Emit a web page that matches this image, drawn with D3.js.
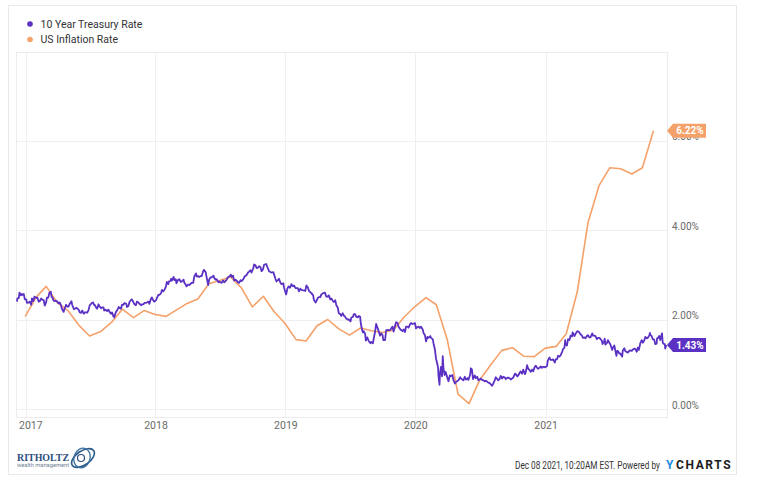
<!DOCTYPE html>
<html><head><meta charset="utf-8">
<script src="https://cdn.jsdelivr.net/npm/d3@7"></script>
<style>
html,body{margin:0;padding:0;background:#fff;}
svg{display:block;font-family:Roboto,"Noto Sans",sans-serif;}
</style></head>
<body>
<svg id="chart" width="760" height="488"></svg>
<script>
// ---------- DATA ----------
const seriesNames = ["10 Year Treasury Rate", "US Inflation Rate"];
const yTickValues = [0, 2, 4, 6];
const yTickLabels = ["0.00%", "2.00%", "4.00%", "6.00%"];
const xTickLabels = ["2017", "2018", "2019", "2020", "2021"];
const lastLabels = ["1.43%", "6.22%"];

const treasury2016 = [["2016-12-08",2.40],["2016-12-09",2.47],["2016-12-13",2.48],["2016-12-15",2.60],["2016-12-19",2.54],["2016-12-21",2.57],["2016-12-23",2.55],["2016-12-27",2.57],["2016-12-30",2.45]];
const treasury2017 = [["2017-01-03",2.45],["2017-01-05",2.37],["2017-01-09",2.38],["2017-01-11",2.38],["2017-01-13",2.40],["2017-01-17",2.33],["2017-01-19",2.47],["2017-01-23",2.41],["2017-01-26",2.51],["2017-01-30",2.49],["2017-02-01",2.48],["2017-02-03",2.49],["2017-02-07",2.40],["2017-02-10",2.41],["2017-02-14",2.47],["2017-02-16",2.45],["2017-02-21",2.43],["2017-02-24",2.31],["2017-02-28",2.39],["2017-03-02",2.49],["2017-03-06",2.49],["2017-03-09",2.60],["2017-03-13",2.62],["2017-03-15",2.51],["2017-03-17",2.50],["2017-03-21",2.42],["2017-03-24",2.41],["2017-03-28",2.42],["2017-03-31",2.40],["2017-04-04",2.36],["2017-04-07",2.38],["2017-04-11",2.31],["2017-04-13",2.24],["2017-04-18",2.17],["2017-04-21",2.25],["2017-04-25",2.33],["2017-04-28",2.29],["2017-05-02",2.29],["2017-05-05",2.35],["2017-05-10",2.41],["2017-05-12",2.33],["2017-05-17",2.23],["2017-05-19",2.24],["2017-05-24",2.26],["2017-05-26",2.25],["2017-05-31",2.21],["2017-06-02",2.16],["2017-06-06",2.15],["2017-06-09",2.20],["2017-06-14",2.13],["2017-06-16",2.16],["2017-06-21",2.16],["2017-06-23",2.15],["2017-06-27",2.21],["2017-06-30",2.31],["2017-07-06",2.37],["2017-07-10",2.38],["2017-07-12",2.33],["2017-07-14",2.33],["2017-07-18",2.27],["2017-07-21",2.24],["2017-07-25",2.34],["2017-07-28",2.29],["2017-08-01",2.25],["2017-08-04",2.27],["2017-08-08",2.27],["2017-08-10",2.20],["2017-08-14",2.22],["2017-08-18",2.19],["2017-08-22",2.22],["2017-08-25",2.17],["2017-08-29",2.13],["2017-09-01",2.16],["2017-09-05",2.07],["2017-09-07",2.05],["2017-09-12",2.17],["2017-09-15",2.20],["2017-09-20",2.28],["2017-09-22",2.26],["2017-09-26",2.24],["2017-09-29",2.33],["2017-10-03",2.33],["2017-10-06",2.37],["2017-10-11",2.35],["2017-10-13",2.28],["2017-10-17",2.30],["2017-10-20",2.39],["2017-10-25",2.44],["2017-10-27",2.45],["2017-11-01",2.37],["2017-11-03",2.34],["2017-11-07",2.32],["2017-11-10",2.40],["2017-11-14",2.38],["2017-11-17",2.35],["2017-11-22",2.32],["2017-11-24",2.34],["2017-11-28",2.34],["2017-12-01",2.37],["2017-12-05",2.37],["2017-12-08",2.38],["2017-12-12",2.40],["2017-12-15",2.35],["2017-12-19",2.46],["2017-12-22",2.49],["2017-12-27",2.41],["2017-12-29",2.40]];
const treasury2018 = [["2018-01-03",2.44],["2018-01-05",2.48],["2018-01-09",2.55],["2018-01-12",2.55],["2018-01-17",2.59],["2018-01-19",2.66],["2018-01-23",2.63],["2018-01-26",2.66],["2018-01-30",2.73],["2018-02-02",2.84],["2018-02-06",2.79],["2018-02-08",2.85],["2018-02-12",2.86],["2018-02-14",2.91],["2018-02-16",2.87],["2018-02-21",2.95],["2018-02-23",2.88],["2018-02-27",2.90],["2018-03-01",2.81],["2018-03-05",2.88],["2018-03-09",2.90],["2018-03-13",2.84],["2018-03-16",2.85],["2018-03-21",2.89],["2018-03-23",2.82],["2018-03-27",2.78],["2018-03-29",2.74],["2018-04-03",2.78],["2018-04-06",2.77],["2018-04-10",2.80],["2018-04-13",2.82],["2018-04-17",2.82],["2018-04-20",2.96],["2018-04-25",3.03],["2018-04-27",2.96],["2018-05-01",2.97],["2018-05-04",2.95],["2018-05-08",2.97],["2018-05-11",2.97],["2018-05-15",3.08],["2018-05-17",3.11],["2018-05-22",3.06],["2018-05-25",2.93],["2018-05-29",2.77],["2018-06-01",2.90],["2018-06-05",2.94],["2018-06-08",2.94],["2018-06-13",2.98],["2018-06-15",2.93],["2018-06-19",2.89],["2018-06-22",2.90],["2018-06-27",2.83],["2018-06-29",2.85],["2018-07-03",2.83],["2018-07-06",2.82],["2018-07-10",2.87],["2018-07-13",2.83],["2018-07-17",2.86],["2018-07-20",2.89],["2018-07-24",2.95],["2018-07-27",2.96],["2018-08-01",3.00],["2018-08-03",2.95],["2018-08-07",2.98],["2018-08-10",2.87],["2018-08-14",2.89],["2018-08-17",2.87],["2018-08-21",2.83],["2018-08-24",2.82],["2018-08-28",2.88],["2018-08-31",2.86],["2018-09-05",2.90],["2018-09-07",2.94],["2018-09-11",2.98],["2018-09-14",2.99],["2018-09-18",3.05],["2018-09-21",3.07],["2018-09-25",3.10],["2018-09-28",3.05],["2018-10-03",3.15],["2018-10-05",3.23],["2018-10-09",3.21],["2018-10-12",3.15],["2018-10-16",3.16],["2018-10-19",3.19],["2018-10-23",3.17],["2018-10-26",3.08],["2018-10-30",3.12],["2018-11-02",3.22],["2018-11-08",3.24],["2018-11-13",3.14],["2018-11-16",3.08],["2018-11-20",3.06],["2018-11-23",3.05],["2018-11-28",3.06],["2018-11-30",3.01],["2018-12-04",2.91],["2018-12-07",2.85],["2018-12-11",2.88],["2018-12-14",2.91],["2018-12-18",2.82],["2018-12-21",2.79],["2018-12-26",2.81],["2018-12-28",2.72]];
const treasury2019 = [["2019-01-03",2.56],["2019-01-07",2.70],["2019-01-10",2.74],["2019-01-14",2.71],["2019-01-18",2.79],["2019-01-22",2.74],["2019-01-25",2.76],["2019-01-30",2.70],["2019-02-01",2.70],["2019-02-05",2.70],["2019-02-08",2.63],["2019-02-12",2.69],["2019-02-15",2.66],["2019-02-20",2.65],["2019-02-22",2.65],["2019-02-26",2.64],["2019-03-01",2.76],["2019-03-05",2.72],["2019-03-08",2.64],["2019-03-12",2.61],["2019-03-15",2.59],["2019-03-20",2.54],["2019-03-22",2.44],["2019-03-27",2.38],["2019-03-29",2.41],["2019-04-02",2.48],["2019-04-05",2.50],["2019-04-09",2.50],["2019-04-12",2.56],["2019-04-17",2.59],["2019-04-22",2.60],["2019-04-26",2.51],["2019-04-30",2.51],["2019-05-03",2.54],["2019-05-07",2.45],["2019-05-10",2.47],["2019-05-14",2.42],["2019-05-17",2.39],["2019-05-21",2.43],["2019-05-24",2.32],["2019-05-28",2.27],["2019-05-31",2.14],["2019-06-04",2.12],["2019-06-07",2.08],["2019-06-11",2.14],["2019-06-14",2.09],["2019-06-18",2.06],["2019-06-20",2.03],["2019-06-25",2.00],["2019-06-28",2.00],["2019-07-03",1.96],["2019-07-05",2.04],["2019-07-10",2.06],["2019-07-12",2.12],["2019-07-16",2.12],["2019-07-19",2.06],["2019-07-24",2.05],["2019-07-26",2.08],["2019-07-30",2.06],["2019-08-01",1.90],["2019-08-05",1.75],["2019-08-07",1.71],["2019-08-09",1.74],["2019-08-13",1.68],["2019-08-15",1.53],["2019-08-19",1.60],["2019-08-23",1.52],["2019-08-28",1.47],["2019-08-30",1.50],["2019-09-04",1.47],["2019-09-06",1.57],["2019-09-10",1.73],["2019-09-13",1.90],["2019-09-17",1.81],["2019-09-20",1.74],["2019-09-24",1.64],["2019-09-27",1.69],["2019-10-01",1.65],["2019-10-03",1.54],["2019-10-08",1.54],["2019-10-11",1.76],["2019-10-15",1.77],["2019-10-18",1.76],["2019-10-23",1.77],["2019-10-25",1.80],["2019-10-29",1.84],["2019-11-01",1.73],["2019-11-05",1.86],["2019-11-08",1.94],["2019-11-12",1.92],["2019-11-15",1.84],["2019-11-19",1.79],["2019-11-21",1.77],["2019-11-26",1.74],["2019-11-29",1.78],["2019-12-03",1.72],["2019-12-06",1.84],["2019-12-10",1.84],["2019-12-13",1.82],["2019-12-17",1.89],["2019-12-20",1.92],["2019-12-24",1.90],["2019-12-31",1.92]];
const treasury2020 = [["2020-01-03",1.80],["2020-01-07",1.83],["2020-01-10",1.84],["2020-01-14",1.81],["2020-01-17",1.84],["2020-01-22",1.77],["2020-01-24",1.70],["2020-01-28",1.65],["2020-01-31",1.51],["2020-02-04",1.61],["2020-02-07",1.59],["2020-02-12",1.63],["2020-02-14",1.59],["2020-02-19",1.56],["2020-02-21",1.47],["2020-02-25",1.33],["2020-02-28",1.13],["2020-03-03",1.00],["2020-03-05",0.92],["2020-03-06",0.74],["2020-03-09",0.54],["2020-03-10",0.76],["2020-03-12",0.88],["2020-03-13",0.94],["2020-03-16",0.73],["2020-03-18",1.18],["2020-03-20",0.92],["2020-03-23",0.76],["2020-03-26",0.83],["2020-03-31",0.70],["2020-04-03",0.62],["2020-04-07",0.75],["2020-04-09",0.73],["2020-04-14",0.76],["2020-04-17",0.65],["2020-04-21",0.57],["2020-04-24",0.60],["2020-04-29",0.63],["2020-05-01",0.64],["2020-05-06",0.71],["2020-05-08",0.68],["2020-05-12",0.66],["2020-05-15",0.64],["2020-05-19",0.72],["2020-05-22",0.66],["2020-05-27",0.69],["2020-05-29",0.65],["2020-06-03",0.77],["2020-06-05",0.91],["2020-06-08",0.88],["2020-06-11",0.67],["2020-06-16",0.75],["2020-06-19",0.69],["2020-06-23",0.72],["2020-06-26",0.64],["2020-06-30",0.66],["2020-07-02",0.68],["2020-07-07",0.65],["2020-07-10",0.64],["2020-07-14",0.62],["2020-07-17",0.63],["2020-07-21",0.61],["2020-07-24",0.59],["2020-07-28",0.58],["2020-07-31",0.55],["2020-08-04",0.52],["2020-08-07",0.57],["2020-08-11",0.64],["2020-08-14",0.71],["2020-08-18",0.67],["2020-08-21",0.64],["2020-08-26",0.69],["2020-08-28",0.74],["2020-09-01",0.68],["2020-09-04",0.72],["2020-09-09",0.70],["2020-09-11",0.67],["2020-09-16",0.70],["2020-09-18",0.70],["2020-09-23",0.68],["2020-09-25",0.66],["2020-09-30",0.69],["2020-10-02",0.70],["2020-10-07",0.79],["2020-10-09",0.78],["2020-10-14",0.73],["2020-10-16",0.75],["2020-10-21",0.82],["2020-10-23",0.84],["2020-10-27",0.79],["2020-10-30",0.88],["2020-11-04",0.78],["2020-11-06",0.82],["2020-11-10",0.98],["2020-11-13",0.90],["2020-11-17",0.87],["2020-11-20",0.83],["2020-11-24",0.88],["2020-11-27",0.84],["2020-12-01",0.93],["2020-12-04",0.97],["2020-12-08",0.92],["2020-12-11",0.90],["2020-12-15",0.92],["2020-12-18",0.95],["2020-12-22",0.92],["2020-12-24",0.94],["2020-12-29",0.94],["2020-12-31",0.93]];
const treasury2021 = [["2021-01-05",0.96],["2021-01-07",1.08],["2021-01-12",1.15],["2021-01-15",1.10],["2021-01-20",1.10],["2021-01-22",1.11],["2021-01-27",1.04],["2021-01-29",1.11],["2021-02-02",1.11],["2021-02-05",1.19],["2021-02-09",1.17],["2021-02-12",1.20],["2021-02-17",1.29],["2021-02-19",1.34],["2021-02-23",1.37],["2021-02-25",1.54],["2021-02-26",1.44],["2021-03-02",1.42],["2021-03-05",1.56],["2021-03-09",1.54],["2021-03-12",1.64],["2021-03-16",1.62],["2021-03-18",1.71],["2021-03-23",1.63],["2021-03-26",1.68],["2021-03-31",1.74],["2021-04-05",1.72],["2021-04-09",1.67],["2021-04-13",1.64],["2021-04-16",1.59],["2021-04-20",1.60],["2021-04-23",1.58],["2021-04-27",1.63],["2021-04-30",1.65],["2021-05-04",1.60],["2021-05-07",1.60],["2021-05-12",1.69],["2021-05-14",1.64],["2021-05-18",1.64],["2021-05-21",1.63],["2021-05-25",1.56],["2021-05-28",1.59],["2021-06-02",1.59],["2021-06-04",1.56],["2021-06-08",1.53],["2021-06-10",1.45],["2021-06-14",1.50],["2021-06-16",1.57],["2021-06-18",1.44],["2021-06-22",1.47],["2021-06-25",1.54],["2021-06-29",1.48],["2021-07-02",1.44],["2021-07-07",1.32],["2021-07-09",1.37],["2021-07-13",1.42],["2021-07-16",1.30],["2021-07-19",1.19],["2021-07-21",1.30],["2021-07-23",1.30],["2021-07-27",1.24],["2021-07-30",1.24],["2021-08-03",1.18],["2021-08-04",1.17],["2021-08-06",1.31],["2021-08-10",1.36],["2021-08-13",1.29],["2021-08-18",1.27],["2021-08-20",1.26],["2021-08-24",1.30],["2021-08-27",1.31],["2021-08-31",1.30],["2021-09-03",1.33],["2021-09-08",1.35],["2021-09-10",1.34],["2021-09-14",1.28],["2021-09-17",1.37],["2021-09-20",1.32],["2021-09-24",1.47],["2021-09-28",1.54],["2021-10-01",1.48],["2021-10-05",1.53],["2021-10-08",1.61],["2021-10-12",1.58],["2021-10-15",1.59],["2021-10-19",1.64],["2021-10-21",1.70],["2021-10-22",1.66],["2021-10-26",1.63],["2021-10-29",1.56],["2021-11-02",1.55],["2021-11-05",1.45],["2021-11-09",1.46],["2021-11-10",1.58],["2021-11-12",1.58],["2021-11-16",1.63],["2021-11-19",1.54],["2021-11-23",1.67],["2021-11-24",1.69],["2021-11-26",1.48],["2021-11-30",1.45],["2021-12-02",1.45],["2021-12-03",1.35],["2021-12-06",1.43]];

const inflationMonths = ["2016-12-31","2017-01-31","2017-02-28","2017-03-31","2017-04-30","2017-05-31","2017-06-30","2017-07-31","2017-08-31","2017-09-30","2017-10-31","2017-11-30","2017-12-31","2018-01-31","2018-02-28","2018-03-31","2018-04-30","2018-05-31","2018-06-30","2018-07-31","2018-08-31","2018-09-30","2018-10-31","2018-11-30","2018-12-31","2019-01-31","2019-02-28","2019-03-31","2019-04-30","2019-05-31","2019-06-30","2019-07-31","2019-08-31","2019-09-30","2019-10-31","2019-11-30","2019-12-31","2020-01-31","2020-02-29","2020-03-31","2020-04-30","2020-05-31","2020-06-30","2020-07-31","2020-08-31","2020-09-30","2020-10-31","2020-11-30","2020-12-31","2021-01-31","2021-02-28","2021-03-31","2021-04-30","2021-05-31","2021-06-30","2021-07-31","2021-08-31","2021-09-30","2021-10-31"];
const inflationRates = [2.07,2.50,2.74,2.38,2.20,1.87,1.63,1.73,1.94,2.23,2.04,2.20,2.11,2.07,2.21,2.36,2.46,2.80,2.87,2.95,2.70,2.28,2.52,2.18,1.91,1.55,1.52,1.86,2.00,1.79,1.65,1.81,1.75,1.71,1.76,2.05,2.29,2.49,2.33,1.54,0.33,0.12,0.65,0.99,1.31,1.37,1.18,1.17,1.36,1.40,1.68,2.62,4.16,4.99,5.39,5.37,5.25,5.39,6.22];

// ---------- BUILD ----------
const parse = d3.timeParse("%Y-%m-%d");
const treasury = [].concat(treasury2016, treasury2017, treasury2018, treasury2019, treasury2020, treasury2021)
  .map(d => ({date: parse(d[0]), value: d[1]}));
const inflation = inflationMonths.map((m, i) => ({date: parse(m), value: inflationRates[i]}));

const colors = ["#5b31c4", "#f5a16a"];
const svg = d3.select("#chart");

// card border
svg.append("rect").attr("x", 8.5).attr("y", 5.5).attr("width", 728).attr("height", 469)
  .attr("fill", "#fff").attr("stroke", "#e9e9e9");

const x = d3.scaleTime().domain([parse("2016-12-08"), parse("2021-12-08")]).range([17, 667]);
const y = d3.scaleLinear().domain([0, 8]).range([409, 51]);

const plot = {left: 16, right: 667, top: 52, bottom: 417};

// frame
svg.append("rect").attr("x", plot.left + 0.5).attr("y", plot.top + 0.5)
  .attr("width", plot.right - plot.left).attr("height", plot.bottom - plot.top)
  .attr("fill", "none").attr("stroke", "#ececec");

// horizontal grid
svg.append("g").selectAll("line").data(yTickValues).join("line")
  .attr("x1", plot.left).attr("x2", plot.right)
  .attr("y1", d => Math.round(y(d)) + 0.5).attr("y2", d => Math.round(y(d)) + 0.5)
  .attr("stroke", "#efefef");

// vertical grid at years
const yearTicks = xTickLabels.map(t => parse(t + "-01-01"));
svg.append("g").selectAll("line").data(yearTicks).join("line")
  .attr("x1", d => Math.round(x(d)) + 0.5).attr("x2", d => Math.round(x(d)) + 0.5)
  .attr("y1", plot.top).attr("y2", plot.bottom)
  .attr("stroke", "#efefef");

// x axis labels
const xAxis = d3.axisBottom(x).tickValues(yearTicks).tickSize(0).tickFormat((d, i) => xTickLabels[i]);
const gx = svg.append("g").attr("transform", `translate(0,${plot.bottom})`).call(xAxis);
gx.select(".domain").remove();
gx.selectAll("text").attr("fill", "#6a6a6a").attr("font-size", 10.5).attr("dy", "0.9em")
  .attr("font-family", "Roboto, sans-serif");
gx.selectAll(".tick").filter((d, i) => i === 0).select("text").attr("text-anchor", "start").attr("x", -7);

// y axis labels (right)
const yAxis = d3.axisRight(y).tickValues(yTickValues).tickSize(0).tickFormat((d, i) => yTickLabels[i]);
const gy = svg.append("g").attr("transform", `translate(${plot.right + 5},-4)`).call(yAxis);
gy.select(".domain").remove();
gy.selectAll("text").attr("fill", "#6a6a6a").attr("font-size", 10).attr("x", 0)
  .attr("font-family", "Roboto, sans-serif");

// lines
const line = d3.line().x(d => x(d.date)).y(d => y(d.value));
svg.append("path").datum(inflation).attr("d", line).attr("fill", "none")
  .attr("stroke", colors[1]).attr("stroke-width", 1.6).attr("stroke-linejoin", "round");
svg.append("path").datum(treasury).attr("d", line).attr("fill", "none")
  .attr("stroke", colors[0]).attr("stroke-width", 1.8).attr("stroke-linejoin", "round");

// last value labels
const lastPts = [treasury[treasury.length - 1], inflation[inflation.length - 1]];
lastPts.forEach((p, i) => {
  const yy = y(p.value);
  const x0 = plot.right;
  const g = svg.append("g");
  g.append("path")
    .attr("d", `M${x0},${yy} L${x0 + 6},${yy - 7} L${x0 + 39},${yy - 7} L${x0 + 39},${yy + 7} L${x0 + 6},${yy + 7} Z`)
    .attr("fill", colors[i]);
  g.append("text").attr("x", x0 + 23).attr("y", yy).attr("dy", "0.35em")
    .attr("text-anchor", "middle").attr("fill", "#fff").attr("font-size", 10)
    .attr("font-weight", "bold").text(lastLabels[i]);
});

// legend
const legend = svg.append("g");
seriesNames.forEach((n, i) => {
  legend.append("circle").attr("cx", 30).attr("cy", 24 + i * 15.5).attr("r", 2.8).attr("fill", colors[i]);
  legend.append("text").attr("x", 40.5).attr("y", 24 + i * 15.5).attr("dy", "0.35em")
    .attr("font-size", 10.5).attr("fill", "#333").text(n);
});

// footer (horizontally condensed to fit its slot)
const footG = svg.append("g");
const footT = footG.append("text").attr("x", 0).attr("y", 0).attr("dy", "0.35em").attr("font-size", 10.5)
  .attr("fill", "#333").text("Dec 08 2021, 10:20AM EST. Powered by");
const footW = footT.node().getComputedTextLength();
footG.attr("transform", `translate(515,465) scale(${145 / footW},1)`);

svg.append("text").attr("x", 666).attr("y", 465).attr("dy", "0.36em")
  .attr("font-size", 12).attr("font-weight", "bold").attr("fill", "#1f8de0").text("Y");
svg.append("text").attr("x", 676).attr("y", 465).attr("dy", "0.36em")
  .attr("font-size", 12).attr("font-weight", "bold").attr("fill", "#1c1c1c")
  .attr("letter-spacing", 1.6).text("CHARTS");

// Ritholtz logo
const logo = svg.append("g");
logo.append("text").attr("x", 17).attr("y", 461).attr("font-family", "'Liberation Serif', serif")
  .attr("font-size", 11).attr("font-weight", "bold").attr("fill", "#2b4d7e")
  .attr("textLength", 52).attr("lengthAdjust", "spacingAndGlyphs").text("RITHOLTZ");
logo.append("text").attr("x", 17).attr("y", 466.5).attr("font-size", 5.5).attr("fill", "#6f7f95")
  .attr("textLength", 52).attr("lengthAdjust", "spacingAndGlyphs").text("wealth management");
logo.append("ellipse").attr("cx", 83).attr("cy", 458).attr("rx", 13).attr("ry", 7)
  .attr("transform", "rotate(-35 83 458)").attr("fill", "none").attr("stroke", "#2b5a8a").attr("stroke-width", 1.6);
logo.append("ellipse").attr("cx", 82).attr("cy", 458).attr("rx", 8).attr("ry", 10)
  .attr("transform", "rotate(20 82 458)").attr("fill", "none").attr("stroke", "#3a6f9f").attr("stroke-width", 1.3);
logo.append("circle").attr("cx", 81).attr("cy", 458).attr("r", 3.5).attr("fill", "none")
  .attr("stroke", "#2b4d7e").attr("stroke-width", 1.2);
</script>
</body></html>
